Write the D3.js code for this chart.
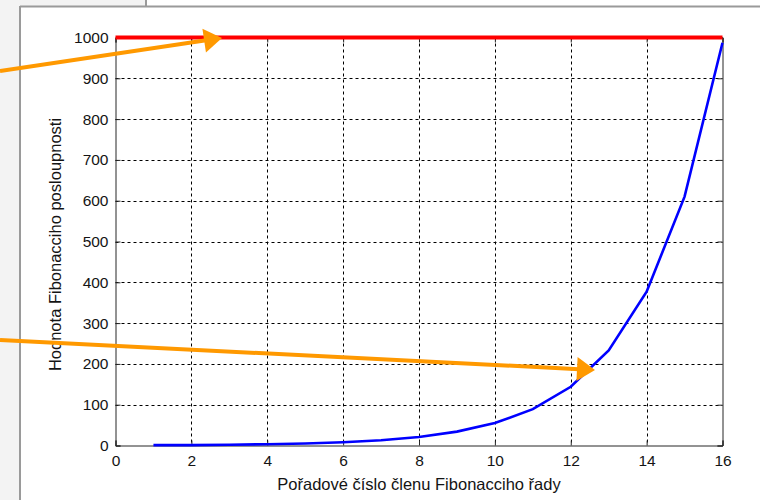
<!DOCTYPE html>
<html><head><meta charset="utf-8">
<script src="https://cdn.jsdelivr.net/npm/d3@7"></script>
<style>
html,body{margin:0;padding:0;background:#f3f3f3;}
svg{display:block;}
text{font-family:"Liberation Sans",Arial,sans-serif;}
</style></head>
<body>
<svg id="c" width="760" height="500"></svg>
<script>
const xIndex = [1,2,3,4,5,6,7,8,9,10,11,12,13,14,15,16];
const fibValues = [1,1,2,3,5,8,13,21,34,55,89,144,233,377,610,987];
const limitValue = 1000;
const xTicks = [0,2,4,6,8,10,12,14,16];
const yTicks = [0,100,200,300,400,500,600,700,800,900,1000];
const xLabel = "Pořadové číslo členu Fibonacciho řady";
const yLabel = "Hodnota Fibonacciho posloupnosti";

const svg = d3.select("#c");
// window frame background
svg.append("rect").attr("x",0).attr("y",0).attr("width",760).attr("height",500).attr("fill","#f3f3f3");
svg.append("rect").attr("x",147).attr("y",0).attr("width",613).attr("height",6).attr("fill","#ffffff");
svg.append("rect").attr("x",21).attr("y",7).attr("width",739).attr("height",493).attr("fill","#ffffff");
svg.append("line").attr("x1",146).attr("x2",146).attr("y1",0).attr("y2",6).attr("stroke","#9a9a9a").attr("stroke-width",2);
svg.append("line").attr("x1",20).attr("x2",760).attr("y1",6.5).attr("y2",6.5).attr("stroke","#9a9a9a").attr("stroke-width",2);
svg.append("line").attr("x1",20).attr("x2",20).attr("y1",6).attr("y2",500).attr("stroke","#9a9a9a").attr("stroke-width",2);

const L=115.5, R=722.5, T=37.5, B=445.5;
const x = d3.scaleLinear().domain([0,16]).range([L,R]);
const y = d3.scaleLinear().domain([0,1000]).range([B,T]);

const g = svg.append("g");
// grid
g.selectAll(".gx").data(xTicks.slice(1,-1)).enter().append("line")
  .attr("x1",d=>Math.round(x(d))+0.5).attr("x2",d=>Math.round(x(d))+0.5).attr("y1",T).attr("y2",B)
  .attr("stroke","#000").attr("stroke-width",1).attr("stroke-dasharray","3,3");
g.selectAll(".gy").data(yTicks.slice(1,-1)).enter().append("line")
  .attr("y1",d=>Math.round(y(d))+0.5).attr("y2",d=>Math.round(y(d))+0.5).attr("x1",L).attr("x2",R)
  .attr("stroke","#000").attr("stroke-width",1).attr("stroke-dasharray","3,3");

// axes (ticks inward)
const xAxis = d3.axisBottom(x).tickValues(xTicks).tickSize(-5).tickPadding(9).tickFormat(d3.format("d"));
const yAxis = d3.axisLeft(y).tickValues(yTicks).tickSize(-5).tickPadding(7).tickFormat(d3.format("d"));
const gx = svg.append("g").attr("transform",`translate(0,${B})`).call(xAxis);
const gy = svg.append("g").attr("transform",`translate(${L},0)`).call(yAxis);
[gx,gy].forEach(a=>{
  a.select(".domain").attr("stroke","#262626");
  a.selectAll(".tick line").attr("stroke","#262626");
  a.selectAll("text").attr("font-size",15.5).attr("fill","#141414").attr("font-family","'Liberation Sans',Arial,sans-serif");
});
gx.selectAll("text").attr("dy","0.71em");
// box top/right with ticks
svg.append("g").attr("transform",`translate(0,${T})`).call(d3.axisTop(x).tickValues(xTicks).tickSize(-5).tickFormat(""))
  .call(a=>{a.select(".domain").attr("stroke","#262626");a.selectAll(".tick line").attr("stroke","#262626");});
svg.append("g").attr("transform",`translate(${R},0)`).call(d3.axisRight(y).tickValues(yTicks).tickSize(-5).tickFormat(""))
  .call(a=>{a.select(".domain").attr("stroke","#262626");a.selectAll(".tick line").attr("stroke","#262626");});

// labels
svg.append("text").attr("x",(L+R)/2).attr("y",490).attr("text-anchor","middle")
  .attr("font-size",16.5).attr("fill","#141414").text(xLabel);
svg.append("text").attr("transform",`translate(61,${(T+B)/2 + 3}) rotate(-90)`).attr("text-anchor","middle")
  .attr("font-size",16.5).attr("fill","#141414").text(yLabel);

// red limit line
svg.append("line").attr("x1",x(0)).attr("x2",x(16)).attr("y1",y(limitValue)).attr("y2",y(limitValue))
  .attr("stroke","#ff0000").attr("stroke-width",4);

// blue fibonacci line
const line = d3.line().x((d,i)=>x(xIndex[i])).y(d=>y(d));
svg.append("path").datum(fibValues).attr("d",line).attr("fill","none").attr("stroke","#0000ff").attr("stroke-width",2.6);

// orange annotation arrows
function arrow(x0,y0,x1,y1){
  const ang=Math.atan2(y1-y0,x1-x0), len=18, hw=12;
  const bx=x1-len*Math.cos(ang), by=y1-len*Math.sin(ang);
  svg.append("line").attr("x1",x0).attr("y1",y0).attr("x2",bx+2*Math.cos(ang)).attr("y2",by+2*Math.sin(ang))
    .attr("stroke","#ff9900").attr("stroke-width",4);
  const px=-Math.sin(ang), py=Math.cos(ang);
  svg.append("path").attr("d",`M${x1},${y1}L${bx+hw*px},${by+hw*py}L${bx-hw*px},${by-hw*py}Z`).attr("fill","#ff9900");
}
arrow(0,71,222,38);
arrow(0,340,595,370);
</script>
</body></html>
